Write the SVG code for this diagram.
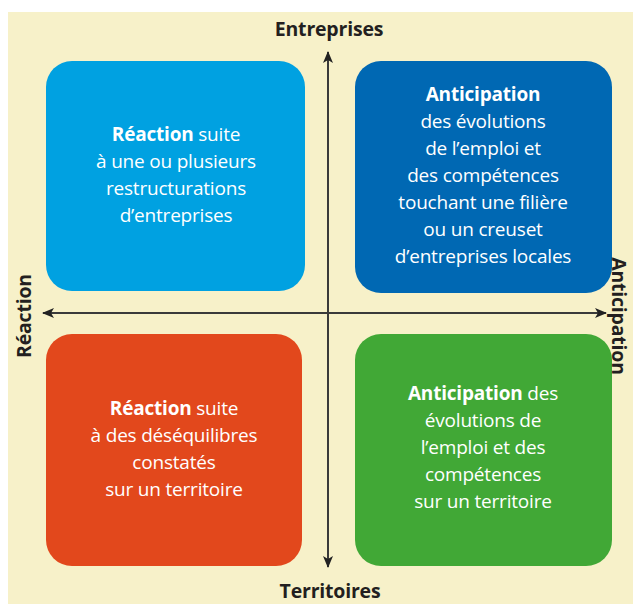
<svg xmlns="http://www.w3.org/2000/svg" width="633" height="604" viewBox="0 0 633 604">
<defs>
<marker id="ah" viewBox="0 0 12 10" refX="11" refY="5" markerWidth="12" markerHeight="10" markerUnits="userSpaceOnUse" orient="auto-start-reverse">
<path d="M0,0 L12,5 L0,10 L3,5 Z" fill="#222"/>
</marker>
<style>
.t{font-family:"Open Sans","Noto Sans",sans-serif;font-size:19px;fill:#fff;text-anchor:middle;letter-spacing:-0.2px}
.b{font-weight:bold}
.ax{font-family:"Open Sans","Noto Sans",sans-serif;font-size:19.5px;font-weight:bold;fill:#231f20;text-anchor:middle;letter-spacing:-0.2px}
.ln{stroke:#3a3a3a;stroke-width:2;fill:none}
</style>
</defs>
<rect x="0" y="0" width="633" height="604" fill="#fff"/>
<rect x="8" y="12" width="625" height="592" fill="#f7f1c9"/>
<g id="q-tl">
<rect x="46" y="61" width="259" height="230" rx="26" fill="#00a1e1"/>
<text class="t" x="176" y="141"><tspan class="b">Réaction</tspan> suite</text>
<text class="t" x="176" y="168">à une ou plusieurs</text>
<text class="t" x="176" y="195">restructurations</text>
<text class="t" x="176" y="222">d’entreprises</text>
</g>
<g id="q-tr">
<rect x="355" y="61" width="257" height="232" rx="26" fill="#0068b3"/>
<text class="t b" x="483" y="101">Anticipation</text>
<text class="t" x="483" y="128">des évolutions</text>
<text class="t" x="483" y="155">de l’emploi et</text>
<text class="t" x="483" y="182">des compétences</text>
<text class="t" x="483" y="209">touchant une filière</text>
<text class="t" x="483" y="236">ou un creuset</text>
<text class="t" x="483" y="263">d’entreprises locales</text>
</g>
<g id="q-bl">
<rect x="46" y="334" width="256" height="232" rx="26" fill="#e2481c"/>
<text class="t" x="174" y="415"><tspan class="b">Réaction</tspan> suite</text>
<text class="t" x="174" y="442">à des déséquilibres</text>
<text class="t" x="174" y="469">constatés</text>
<text class="t" x="174" y="496">sur un territoire</text>
</g>
<g id="q-br">
<rect x="355" y="334" width="257" height="232" rx="26" fill="#41a836"/>
<text class="t" x="483" y="400"><tspan class="b">Anticipation</tspan> des</text>
<text class="t" x="483" y="427">évolutions de</text>
<text class="t" x="483" y="454">l’emploi et des</text>
<text class="t" x="483" y="481">compétences</text>
<text class="t" x="483" y="508">sur un territoire</text>
</g>
<g id="connectors">
<line class="ln" x1="328" y1="313" x2="328" y2="52" marker-end="url(#ah)"/>
<line class="ln" x1="328" y1="313" x2="328" y2="567" marker-end="url(#ah)"/>
<line class="ln" x1="328" y1="313" x2="43" y2="313" marker-end="url(#ah)"/>
<line class="ln" x1="328" y1="313" x2="606" y2="313" marker-end="url(#ah)"/>
</g>
<g id="labels">
<text class="ax" x="329" y="36">Entreprises</text>
<text class="ax" x="330" y="598">Territoires</text>
<text class="ax" transform="translate(31,316) rotate(-90)">Réaction</text>
<text class="ax" transform="translate(612,316) rotate(90)">Anticipation</text>
</g>
</svg>
